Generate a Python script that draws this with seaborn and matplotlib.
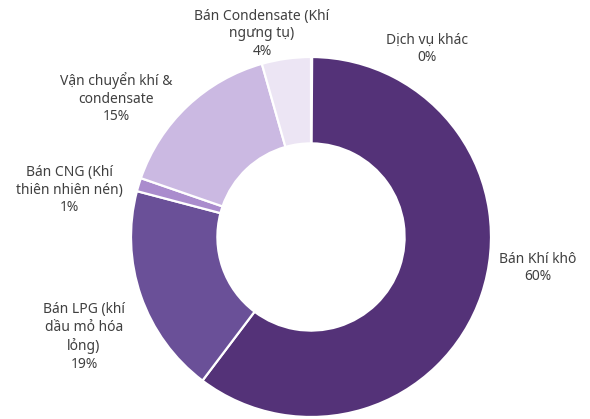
import matplotlib
matplotlib.use("Agg")
import matplotlib.pyplot as plt
import seaborn as sns

# Co cau doanh thu (%), theo chieu kim dong ho tu dinh
labels = ["Dịch vụ khác", "Bán Khí khô", "Bán LPG (khí\ndầu mỏ hóa\nlỏng)",
          "Bán CNG (Khí\nthiên nhiên nén)", "Vận chuyển khí &\ncondensate",
          "Bán Condensate (Khí\nngưng tụ)"]
values = [0.1, 60.2, 18.8, 1.2, 15.3, 4.4]
colors = ["#3a3a3a", "#543278", "#6a5098", "#aa8ccd", "#cbb9e2", "#ece5f4"]

# vi tri nhan (don vi ban kinh)
label_pos = [(0.644, 1.044), (1.261, -0.172), (-1.261, -0.556),
             (-1.344, 0.261), (-1.083, 0.772), (-0.272, 1.128)]

sns.set_theme(style="white")
plt.rcParams['font.family'] = ['Noto Sans', 'DejaVu Sans']

fig = plt.figure(figsize=(5.9, 4.19), dpi=100)
ax = fig.add_axes([131 / 590, 2 / 419, 360 / 590, 360 / 419])
ax.pie(values, colors=colors, startangle=90, counterclock=False,
       wedgeprops=dict(width=0.48, edgecolor="white", linewidth=1.6))
ax.set_xlim(-1, 1)
ax.set_ylim(-1, 1)
ax.set_aspect("equal")
ax.axis("off")

for lab, v, (x, y) in zip(labels, values, label_pos):
    ax.text(x, y, f"{lab}\n{round(v):.0f}%", ha="center", va="center",
            fontsize=10, color="#404040", linespacing=1.25)

fig.savefig("out.png", dpi=100)
